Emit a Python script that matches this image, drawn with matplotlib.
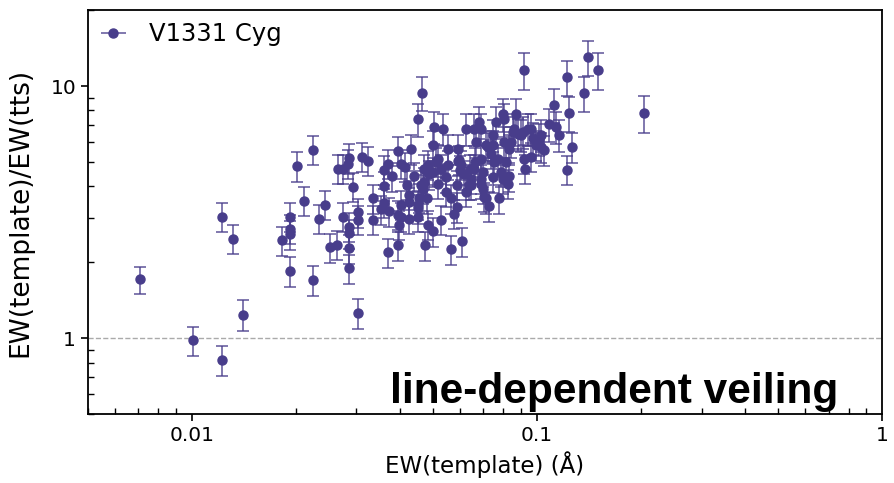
import matplotlib
matplotlib.use("Agg")
import matplotlib.pyplot as plt
from matplotlib.ticker import FuncFormatter, NullFormatter, LogLocator

# EW(template) in Angstrom, ratio EW(template)/EW(tts) and its error
ew_template = [
    0.00707, 0.0101, 0.0122, 0.0122, 0.0132, 0.0141, 0.0183, 0.0192, 0.0192, 0.0192,
    0.0192, 0.0202, 0.0212, 0.0224, 0.0224, 0.0233, 0.0243, 0.0252, 0.0264, 0.0266,
    0.0275, 0.0283, 0.0285, 0.0274, 0.0285, 0.0285, 0.0285, 0.0285, 0.0294, 0.0304,
    0.0304, 0.0304, 0.0312, 0.0324, 0.0336, 0.0336, 0.0354, 0.0361, 0.0361, 0.0370,
    0.0361, 0.0373, 0.0370, 0.0397, 0.0405, 0.0416, 0.0419, 0.0425, 0.0433, 0.0397,
    0.0399, 0.0397, 0.0405, 0.0425, 0.0453, 0.0465, 0.0504, 0.0535, 0.0501, 0.0553,
    0.0592, 0.0518, 0.0528, 0.0592, 0.0471, 0.0487, 0.0471, 0.0468, 0.0481, 0.0456,
    0.0453, 0.0425, 0.0405, 0.0453, 0.0484, 0.0501, 0.0475, 0.0528, 0.0545, 0.0565,
    0.0576, 0.0565, 0.0607, 0.0545, 0.0518, 0.0484, 0.0501, 0.0553, 0.0511, 0.0596,
    0.0600, 0.0623, 0.0615, 0.0636, 0.0640, 0.0658, 0.0667, 0.0681, 0.0690, 0.0690,
    0.0699, 0.0690, 0.0699, 0.0713, 0.0727, 0.0723, 0.0747, 0.0752, 0.0772, 0.0777,
    0.0798, 0.0804, 0.0804, 0.0815, 0.0826, 0.0831, 0.0870, 0.0859, 0.0882, 0.0912,
    0.0918, 0.0924, 0.0962, 0.0975, 0.0962, 0.1028, 0.1028, 0.1049, 0.1084, 0.1135,
    0.1158, 0.0831, 0.0788, 0.0918, 0.1222, 0.141, 0.150, 0.137, 0.1120, 0.1238,
    0.204, 0.1263, 0.1222, 0.0853, 0.0900, 0.0943, 0.0994, 0.1014, 0.0798, 0.0747,
    0.0690, 0.0713, 0.0747, 0.0603, 0.0645, 0.0658, 0.0704, 0.0453, 0.0462, 0.0645,
    0.0588, 0.0623, 0.0663, 0.0737, 0.0842, 0.0762, 0.0379, 0.0440, 0.0588,
]
ratio = [
    1.71, 0.98, 0.82, 3.03, 2.48, 1.24, 2.44, 3.03, 2.72, 2.58,
    1.84, 4.83, 3.51, 5.59, 1.70, 2.98, 3.38, 2.29, 2.35, 4.70,
    4.70, 4.92, 5.19, 3.03, 2.77, 2.60, 2.27, 1.89, 3.99, 3.15,
    2.95, 1.26, 5.24, 5.06, 3.58, 2.95, 3.24, 4.66, 4.03, 4.92,
    3.45, 3.18, 2.19, 5.54, 4.92, 4.79, 4.06, 3.71, 5.64, 3.09,
    2.82, 2.33, 3.38, 2.98, 7.40, 9.38, 6.88, 6.76, 5.85, 5.64,
    5.64, 5.15, 4.70, 5.06, 4.70, 4.46, 4.17, 3.92, 3.58, 3.61,
    3.38, 3.48, 3.03, 3.03, 2.82, 2.65, 2.33, 2.95, 3.81, 3.58,
    3.12, 2.25, 2.42, 4.34, 4.10, 4.88, 4.58, 4.88, 5.01, 5.10,
    4.66, 6.76, 4.46, 4.06, 4.70, 6.76, 6.01, 7.20, 6.76, 5.15,
    4.58, 4.29, 3.92, 3.58, 3.35, 5.74, 6.40, 5.01, 5.15, 3.58,
    7.75, 7.40, 6.01, 5.01, 4.10, 4.38, 7.75, 6.76, 6.46, 6.58,
    5.15, 4.70, 6.76, 6.23, 5.24, 6.40, 5.74, 5.59, 7.07, 6.88,
    6.40, 5.64, 4.58, 11.57, 10.85, 13.02, 11.57, 9.38, 8.41, 7.82,
    7.82, 5.74, 4.66, 6.58, 6.40, 6.76, 5.85, 6.18, 4.29, 4.34,
    4.10, 5.85, 5.85, 4.88, 4.29, 4.70, 3.64, 3.27, 4.06, 4.06,
    4.06, 3.81, 5.01, 5.39, 6.01, 7.20, 4.38, 4.38, 3.31,
]
ratio_err = [
    0.21, 0.13, 0.11, 0.40, 0.33, 0.17, 0.32, 0.40, 0.36, 0.34,
    0.25, 0.65, 0.47, 0.75, 0.23, 0.40, 0.45, 0.30, 0.31, 0.63,
    0.63, 0.66, 0.70, 0.40, 0.37, 0.35, 0.30, 0.25, 0.53, 0.42,
    0.39, 0.17, 0.70, 0.68, 0.48, 0.39, 0.43, 0.62, 0.54, 0.66,
    0.46, 0.42, 0.29, 0.74, 0.66, 0.64, 0.54, 0.50, 0.76, 0.41,
    0.38, 0.31, 0.45, 0.40, 1.10, 1.45, 1.00, 0.98, 0.80, 0.76,
    0.76, 0.69, 0.63, 0.68, 0.63, 0.60, 0.56, 0.52, 0.48, 0.48,
    0.45, 0.46, 0.40, 0.40, 0.38, 0.35, 0.31, 0.39, 0.51, 0.48,
    0.42, 0.30, 0.32, 0.58, 0.55, 0.65, 0.61, 0.65, 0.67, 0.68,
    0.62, 0.98, 0.60, 0.54, 0.63, 0.98, 0.85, 1.05, 0.98, 0.69,
    0.61, 0.57, 0.52, 0.48, 0.45, 0.80, 0.92, 0.67, 0.69, 0.48,
    1.15, 1.10, 0.85, 0.67, 0.55, 0.59, 1.15, 0.98, 0.93, 0.95,
    0.69, 0.63, 0.98, 0.90, 0.70, 0.92, 0.80, 0.76, 1.05, 1.00,
    0.92, 0.76, 0.61, 1.90, 1.75, 2.10, 1.90, 1.50, 1.30, 1.25,
    1.30, 0.80, 0.62, 0.95, 0.92, 0.98, 0.80, 0.88, 0.57, 0.58,
    0.55, 0.80, 0.80, 0.65, 0.57, 0.63, 0.49, 0.44, 0.54, 0.54,
    0.54, 0.51, 0.67, 0.72, 0.85, 1.05, 0.59, 0.59, 0.44,
]
star = "V1331 Cyg"
label_text = "line-dependent veiling"

col = "#483D8B"
ecol = (72 / 255, 61 / 255, 139 / 255, 0.75)

fig = plt.figure(figsize=(8.94, 4.83), dpi=100)
ax = fig.add_axes([0.0984, 0.1429, 0.8882, 0.8361])

ax.errorbar(ew_template, ratio, yerr=ratio_err, fmt="o", ms=6.5, color=col,
            ecolor=ecol, elinewidth=1.3, capsize=4, capthick=1.3)

# proxy only for the legend (horizontal bar like in the original)
proxy = ax.errorbar([], [], xerr=[], fmt="o", ms=6.5, color=col, ecolor=ecol,
                    elinewidth=1.3, capsize=3, capthick=1.3)
ax.legend([proxy], [star], loc="upper left", frameon=False, fontsize=17.5,
          handlelength=1.1, borderaxespad=0.2, handletextpad=0.9,
          borderpad=0.3)

ax.axhline(1.0, color="#aaaaaa", ls="--", lw=1.0, zorder=0)

ax.set_xscale("log")
ax.set_yscale("log")
ax.set_xlim(0.005, 1.0)
ax.set_ylim(0.5, 20)

fmt = FuncFormatter(lambda v, p: "%g" % v)
for a in (ax.xaxis, ax.yaxis):
    a.set_major_formatter(fmt)
    a.set_minor_formatter(NullFormatter())
    a.set_minor_locator(LogLocator(base=10, subs=range(2, 10)))
ax.tick_params(which="major", direction="out", length=5, width=1.2, labelsize=14.5)
ax.tick_params(which="minor", direction="in", length=4, width=1.0)

for s in ax.spines.values():
    s.set_linewidth(1.3)

ax.set_xlabel("EW(template) (Å)", fontsize=16.5, labelpad=5)
ax.set_ylabel("EW(template)/EW(tts)", fontsize=19, labelpad=12)

ax.text(0.38, 0.027, label_text, transform=ax.transAxes, ha="left",
        va="baseline", fontsize=30.5, fontweight="bold",
        family=["Liberation Sans", "DejaVu Sans"], color="black")

fig.savefig("out.png", dpi=100)
